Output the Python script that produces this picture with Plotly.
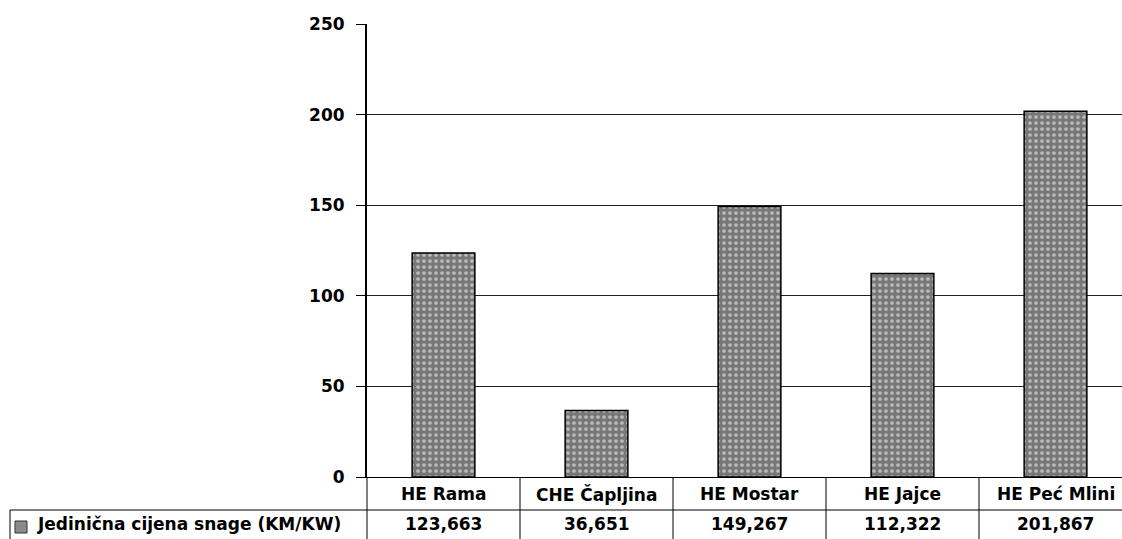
import plotly.graph_objects as go

categories = ["HE Rama", "CHE Čapljina", "HE Mostar", "HE Jajce", "HE Peć Mlini"]
values = [123.663, 36.651, 149.267, 112.322, 201.867]
value_labels = ["123,663", "36,651", "149,267", "112,322", "201,867"]
series_name = "Jedinična cijena snage (KM/KW)"
y_ticks = [0, 50, 100, 150, 200, 250]

W, H = 1122, 539
PL, PR, PT, PB = 367, 1122, 24, 477          # plot area in screen pixels
L, R, T, B = PL, W - PR, PT, H - PB
ph = PB - PT
pw = PR - PL
CAT_W = 153.0                                 # category width in pixels (plot area wider than view)

def py(spix):
    return (PB - spix) / ph

def px(spix):
    return (spix - PL) / pw

font = dict(family="DejaVu Sans, sans-serif", size=17, color="black")
tfont = dict(family="DejaVu Sans, sans-serif", size=17, color="black")

fig = go.Figure()
fig.add_trace(go.Bar(
    x=list(range(len(categories))), y=values, name=series_name,
    marker=dict(color="#777777", line=dict(color="black", width=1.5),
                pattern=dict(shape=".", fgcolor="white", size=6, solidity=0.3, fillmode="overlay")),
    width=0.41, showlegend=False,
))

ROW = 510
shapes = []
shapes.append(dict(type="line", xref="paper", yref="paper", x0=px(10), x1=1, y0=py(ROW), y1=py(ROW), line=dict(color="black", width=1)))
shapes.append(dict(type="line", xref="paper", yref="paper", x0=px(10), x1=px(10), y0=py(ROW), y1=py(545), line=dict(color="black", width=1)))
shapes.append(dict(type="line", xref="paper", yref="paper", x0=0, x1=0, y0=0, y1=py(545), line=dict(color="black", width=1)))
for i in range(1, len(categories)):
    shapes.append(dict(type="line", xref="x", yref="paper", x0=i - 0.5, x1=i - 0.5, y0=0, y1=py(545), line=dict(color="black", width=1)))
shapes.append(dict(type="rect", xref="paper", yref="paper", x0=px(15), x1=px(27), y0=py(533), y1=py(521), fillcolor="#8a8a8a", line=dict(color="#333", width=1)))

annotations = []
for i, (c, v) in enumerate(zip(categories, value_labels)):
    annotations.append(dict(x=i, y=py(494), xref="x", yref="paper", text="<b>%s</b>" % c, showarrow=False, font=font, xanchor="center", yanchor="middle"))
    annotations.append(dict(x=i, y=py(524), xref="x", yref="paper", text="<b>%s</b>" % v, showarrow=False, font=font, xanchor="center", yanchor="middle"))
annotations.append(dict(x=px(35), y=py(524), xref="paper", yref="paper", text="<b>%s</b>" % series_name, showarrow=False, font=font, xanchor="left", yanchor="middle"))

fig.update_layout(
    width=W, height=H, margin=dict(l=L, r=R, t=T, b=B),
    paper_bgcolor="white", plot_bgcolor="white",
    xaxis=dict(range=[-0.5, -0.5 + pw / CAT_W], showticklabels=False, showgrid=False,
               showline=True, linecolor="black", linewidth=1, ticks="", zeroline=False),
    yaxis=dict(range=[0, 250], tickvals=y_ticks, ticktext=["<b>%d</b>" % t for t in y_ticks],
               showgrid=True, gridcolor="#222", gridwidth=1, showline=True, linecolor="black", linewidth=2,
               ticks="outside", ticklen=9, tickcolor="black", tickfont=tfont, zeroline=False,
               ticklabelstandoff=8),
    shapes=shapes, annotations=annotations,
)
fig.write_html("out.html", config={"displayModeBar": False},
               post_script="document.body.style.margin='0';document.body.style.overflow='hidden';")
